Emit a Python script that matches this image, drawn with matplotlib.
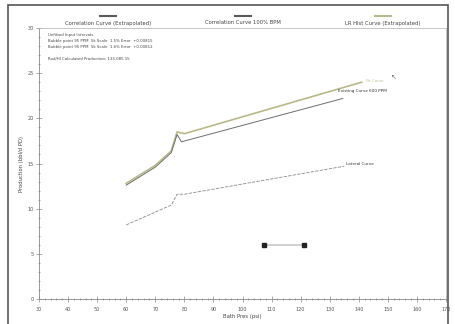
import numpy as np
import matplotlib.pyplot as plt
from matplotlib.patches import Rectangle

# data
hist_x = [60, 70, 75.5, 77.5, 80, 141]
hist_y = [12.8, 14.8, 16.4, 18.5, 18.3, 24.0]

corr_x = [60, 70, 75.5, 77.5, 79, 134.5]
corr_y = [12.6, 14.6, 16.2, 18.2, 17.4, 22.2]

lat_x = [60, 75.5, 77.5, 80, 135]
lat_y = [8.2, 10.4, 11.6, 11.6, 14.7]

seg_x = [107.5, 121]
seg_y = [6.0, 6.0]

legend_labels = ['Correlation Curve (Extrapolated)', 'Correlation Curve 100% BPM',
                 'LR Hist Curve (Extrapolated)']
legend_colors = ['#5a5a5a', '#5a5a5a', '#b8b88a']

notes = ['Unfitted Input Intervals',
         'Bubble point 95 PPM  5k Scale  1.5% Error  +0.00815',
         'Bubble point 95 PPM  5k Scale  1.6% Error  +0.00812',
         '',
         'Rod/Hl Calculated Production: 135.085 15']

fig = plt.figure(figsize=(4.55, 3.24), dpi=100)
fig.patches.append(Rectangle((8 / 455, -0.05), 440 / 455, 1 - 5 / 324 + 0.05,
                             transform=fig.transFigure, fill=False,
                             edgecolor='#555555', linewidth=1.2))

ax = fig.add_axes([39 / 455, 25 / 324, 407 / 455, 271 / 324])

ax.plot(hist_x, hist_y, color='#b8b88a', lw=1.2)
ax.plot(corr_x, corr_y, color='#6e6e6e', lw=0.7)
ax.plot(lat_x, lat_y, color='#8a8a8a', lw=0.6, dashes=(4, 1.5))
ax.plot(seg_x, seg_y, color='#c8c8c8', lw=1.2, zorder=1)
ax.plot(seg_x, seg_y, 's', color='#222222', ms=2.2, lw=0)

ax.text(133, 22.9, 'Existing Curve 600 PPM', fontsize=3, color='#333333')
ax.text(142.5, 24.0, 'Fit Curve', fontsize=2.8, color='#bbbb99')
ax.text(135.5, 14.8, 'Lateral Curve', fontsize=3, color='#333333')
ax.text(151, 24.4, '\u2196', fontsize=5, color='#777777')

for i, line in enumerate(notes):
    ax.text(33, 29.4 - i * 0.65, line, fontsize=2.8, color='#444444', va='top')

ax.set_xlim(30, 170)
ax.set_ylim(0, 30)
ax.set_xticks(np.arange(30, 171, 10))
ax.set_xticks(np.arange(30, 171, 2), minor=True)
ax.set_yticks(np.arange(0, 31, 5))
ax.set_yticks(np.arange(0, 31, 1), minor=True)
ax.tick_params(which='both', direction='inout', colors='#888888', labelsize=3.5,
               labelcolor='#555555', width=0.5, pad=2)
ax.tick_params(which='major', length=4)
ax.tick_params(which='minor', length=2)
ax.tick_params(axis='x', pad=4)
for s in ax.spines.values():
    s.set_color('#bbbbbb')
    s.set_linewidth(0.6)
ax.spines['left'].set_color('#888888')
ax.spines['bottom'].set_color('#888888')

ax.set_xlabel('Bath Pres (psi)', fontsize=3.8, color='#444444', labelpad=1)
ax.set_ylabel('Production (bbl/d PD)', fontsize=3.8, color='#444444', labelpad=2)

# legend above the plot: swatch over text
for xc, lab, col in zip([108, 243, 383], legend_labels, legend_colors):
    fig.lines.append(plt.Line2D([(xc - 8) / 455, (xc + 8) / 455], [1 - 16 / 324] * 2,
                                transform=fig.transFigure, color=col, lw=1.5))
    fig.text(xc / 455, 1 - 23 / 324, lab, fontsize=3.8, color='#444444',
             ha='center', va='center')

fig.savefig('out.png', dpi=100)
